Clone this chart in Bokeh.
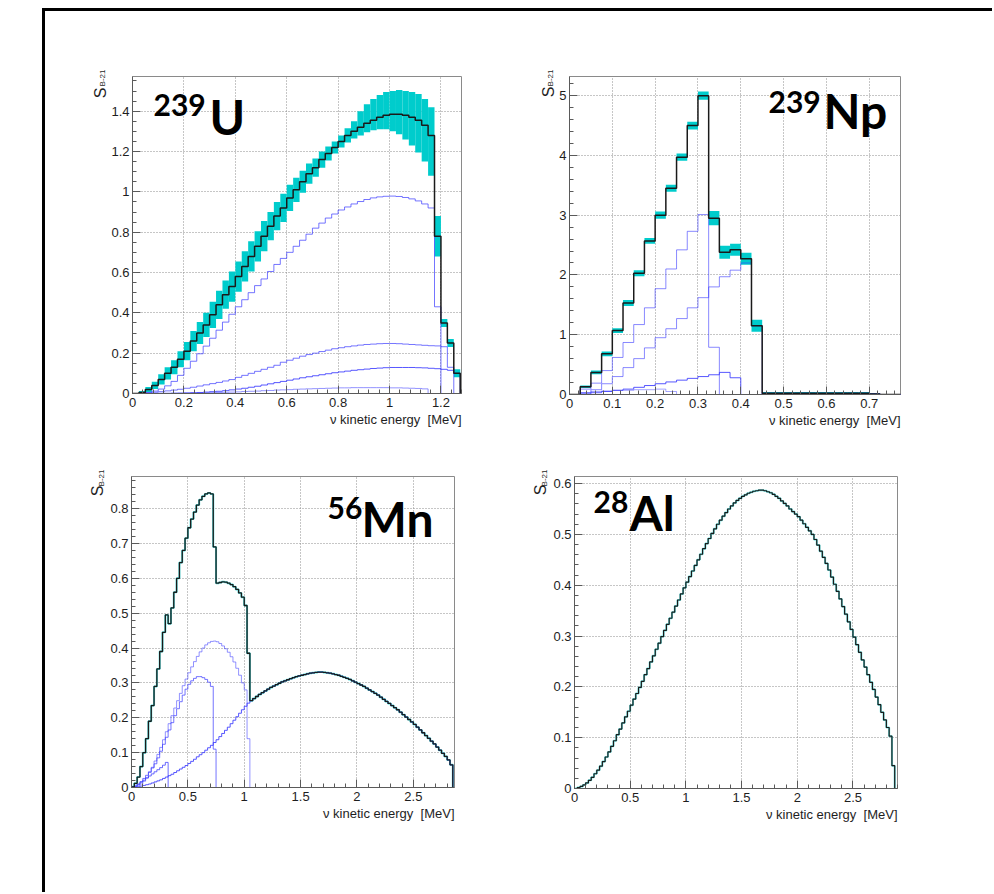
import numpy as np
from bokeh.plotting import figure
from bokeh.models import FixedTicker, PrintfTickFormatter, Label, Title, Div, Spacer
from bokeh.layouts import row, column
from bokeh.embed import file_html
from bokeh.resources import INLINE

BIN = 0.025  # MeV, bin width of every histogram

# ---------------- 239U (51 bins, 0 - 1.275 MeV) ----------------
U_TOTAL = [0.000, 0.005, 0.020, 0.040, 0.070, 0.100, 0.130, 0.170, 0.210, 0.260,
           0.300, 0.340, 0.390, 0.440, 0.490, 0.530, 0.580, 0.630, 0.680, 0.730,
           0.780, 0.830, 0.880, 0.920, 0.970, 1.010, 1.050, 1.090, 1.120, 1.160,
           1.190, 1.220, 1.250, 1.280, 1.300, 1.320, 1.340, 1.355, 1.370, 1.380,
           1.385, 1.385, 1.380, 1.370, 1.355, 1.330, 1.280, 0.780, 0.350, 0.250, 0.100]
U_ERR_LO = [0.003, 0.008, 0.012, 0.018, 0.025, 0.030, 0.035, 0.040, 0.045, 0.050,
            0.055, 0.060, 0.065, 0.070, 0.070, 0.075, 0.075, 0.075, 0.075, 0.075,
            0.075, 0.070, 0.070, 0.070, 0.065, 0.060, 0.055, 0.050, 0.045, 0.040,
            0.035, 0.030, 0.030, 0.035, 0.035, 0.040, 0.045, 0.050, 0.060, 0.070,
            0.085, 0.100, 0.120, 0.140, 0.160, 0.180, 0.200, 0.100, 0.020, 0.020, 0.020]
U_ERR_HI = [0.003, 0.008, 0.012, 0.018, 0.025, 0.030, 0.035, 0.040, 0.045, 0.050,
            0.055, 0.060, 0.065, 0.070, 0.070, 0.075, 0.075, 0.075, 0.075, 0.075,
            0.075, 0.070, 0.070, 0.070, 0.065, 0.060, 0.055, 0.050, 0.045, 0.040,
            0.035, 0.030, 0.030, 0.035, 0.050, 0.080, 0.095, 0.105, 0.110, 0.115,
            0.115, 0.120, 0.120, 0.125, 0.130, 0.130, 0.140, 0.100, 0.020, 0.020, 0.020]
U_C1 = [0.000, 0.000, 0.005, 0.012, 0.022, 0.038, 0.060, 0.090, 0.125, 0.160,
        0.197, 0.235, 0.274, 0.314, 0.354, 0.393, 0.430, 0.465, 0.500, 0.535,
        0.568, 0.605, 0.640, 0.670, 0.700, 0.730, 0.760, 0.790, 0.820, 0.845,
        0.870, 0.890, 0.910, 0.925, 0.940, 0.952, 0.962, 0.970, 0.975, 0.978,
        0.979, 0.977, 0.972, 0.965, 0.955, 0.940, 0.920, 0.430, 0.000, 0.000, 0.000]
U_C2 = [0.000, 0.001, 0.003, 0.006, 0.009, 0.013, 0.017, 0.021, 0.026, 0.031,
        0.037, 0.043, 0.049, 0.055, 0.062, 0.069, 0.080, 0.090, 0.100, 0.110,
        0.120, 0.130, 0.140, 0.155, 0.165, 0.175, 0.185, 0.193, 0.200, 0.208,
        0.215, 0.222, 0.227, 0.232, 0.236, 0.240, 0.243, 0.245, 0.247, 0.248,
        0.248, 0.247, 0.245, 0.243, 0.241, 0.239, 0.237, 0.236, 0.232, 0.130, 0.000]
U_C3 = [0.000, 0.000, 0.000, 0.000, 0.001, 0.001, 0.002, 0.002, 0.003, 0.004,
        0.005, 0.007, 0.009, 0.011, 0.014, 0.018, 0.022, 0.026, 0.031, 0.036,
        0.042, 0.048, 0.054, 0.060, 0.066, 0.072, 0.078, 0.083, 0.088, 0.093,
        0.098, 0.103, 0.107, 0.111, 0.115, 0.118, 0.121, 0.124, 0.126, 0.128,
        0.129, 0.129, 0.129, 0.129, 0.128, 0.127, 0.125, 0.123, 0.120, 0.115, 0.100]
U_C4 = [0.000, 0.000, 0.000, 0.000, 0.000, 0.000, 0.000, 0.001, 0.001, 0.002,
        0.002, 0.003, 0.004, 0.005, 0.006, 0.007, 0.008, 0.010, 0.011, 0.012,
        0.014, 0.015, 0.017, 0.018, 0.019, 0.021, 0.022, 0.023, 0.024, 0.025,
        0.026, 0.027, 0.028, 0.028, 0.029, 0.029, 0.029, 0.029, 0.029, 0.029,
        0.028, 0.028, 0.027, 0.026, 0.025, 0.023, 0.000, 0.000, 0.000, 0.000, 0.000]

# ---------------- 239Np (31 bins, 0 - 0.775 MeV) ----------------
NP_TOTAL = [0.00, 0.13, 0.37, 0.68, 1.07, 1.53, 2.03, 2.57, 3.00, 3.45,
            3.97, 4.50, 5.00, 2.95, 2.38, 2.42, 2.27, 1.15, 0.02, 0.02,
            0.02, 0.02, 0.02, 0.02, 0.02, 0.02, 0.02, 0.02, 0.01, 0.00, 0.00]
NP_ERR = [0.00, 0.02, 0.03, 0.04, 0.04, 0.05, 0.05, 0.05, 0.06, 0.06,
          0.06, 0.065, 0.07, 0.12, 0.11, 0.10, 0.10, 0.10, 0.02, 0.02,
          0.02, 0.02, 0.02, 0.02, 0.02, 0.02, 0.02, 0.02, 0.01, 0.00, 0.00]
NP_A = [0.00, 0.09, 0.19, 0.40, 0.62, 0.87, 1.17, 1.45, 1.77, 2.10, 2.42, 2.73, 3.01, 0.79]
NP_C = [0.00, 0.03, 0.08, 0.18, 0.30, 0.45, 0.60, 0.78, 0.95, 1.10, 1.27, 1.45, 1.62,
        1.80, 1.97, 2.08, 2.20, 1.15]
NP_D = [0.00, 0.01, 0.03, 0.05, 0.07, 0.09, 0.12, 0.15, 0.18, 0.21, 0.24, 0.27, 0.30,
        0.33, 0.37, 0.28]
NP_E = [0.00, 0.03, 0.05, 0.06, 0.07, 0.07, 0.08, 0.08, 0.09, 0.05]
NP_F = [0.00, 0.00, 0.00, 0.00, 0.00, 0.00, 0.00, 0.00, 0.00, 0.00,
        0.00, 0.00, 0.00, 0.00, 0.00, 0.00, 0.00, 0.00, 0.02, 0.02,
        0.02, 0.02, 0.02, 0.02, 0.02, 0.02, 0.02, 0.02, 0.01]

# ---------------- 56Mn (114 bins, 0 - 2.85 MeV) ----------------
MN_C4 = [0.000, 0.001, 0.002, 0.004, 0.006, 0.008, 0.010, 0.013, 0.016, 0.019,
         0.022, 0.026, 0.030, 0.034, 0.038, 0.043, 0.048, 0.053, 0.058, 0.063,
         0.069, 0.075, 0.081, 0.088, 0.094, 0.100, 0.107, 0.114, 0.121, 0.129,
         0.137, 0.146, 0.155, 0.164, 0.173, 0.183, 0.193, 0.203, 0.213, 0.223,
         0.233, 0.242, 0.249, 0.255, 0.261, 0.267, 0.272, 0.277, 0.282, 0.287,
         0.291, 0.295, 0.299, 0.303, 0.306, 0.309, 0.312, 0.315, 0.318, 0.320,
         0.322, 0.324, 0.326, 0.328, 0.329, 0.330, 0.331, 0.331, 0.330, 0.329,
         0.328, 0.326, 0.324, 0.322, 0.319, 0.316, 0.313, 0.310, 0.306, 0.302,
         0.298, 0.294, 0.290, 0.285, 0.280, 0.275, 0.270, 0.265, 0.259, 0.253,
         0.247, 0.241, 0.235, 0.229, 0.223, 0.216, 0.209, 0.202, 0.195, 0.188,
         0.181, 0.173, 0.165, 0.157, 0.149, 0.141, 0.133, 0.125, 0.116, 0.107,
         0.098, 0.089, 0.079, 0.065]
MN_TOTAL_LOW = [0.002, 0.012, 0.030, 0.060, 0.100, 0.140, 0.190, 0.235, 0.290, 0.340,
                0.390, 0.445, 0.495, 0.470, 0.515, 0.560, 0.600, 0.645, 0.680, 0.715,
                0.745, 0.770, 0.790, 0.810, 0.825, 0.835, 0.842, 0.845, 0.842, 0.690,
                0.586, 0.588, 0.590, 0.589, 0.586, 0.582, 0.576, 0.568, 0.558, 0.546,
                0.522, 0.385]
MN_C1 = [0.001, 0.004, 0.009, 0.015, 0.021, 0.027, 0.033, 0.039, 0.045, 0.051,
         0.057, 0.064, 0.072]
MN_C2 = [0.001, 0.004, 0.010, 0.017, 0.026, 0.035, 0.045, 0.056, 0.068, 0.085,
         0.104, 0.124, 0.144, 0.165, 0.186, 0.206, 0.226, 0.246, 0.265, 0.282,
         0.296, 0.306, 0.313, 0.318, 0.318, 0.315, 0.310, 0.302, 0.290, 0.110]
MN_C3 = [0.000, 0.002, 0.005, 0.010, 0.018, 0.028, 0.043, 0.058, 0.076, 0.095,
         0.115, 0.137, 0.160, 0.183, 0.206, 0.228, 0.249, 0.270, 0.292, 0.311,
         0.329, 0.346, 0.361, 0.376, 0.389, 0.400, 0.409, 0.415, 0.419, 0.420,
         0.418, 0.413, 0.406, 0.398, 0.388, 0.375, 0.360, 0.342, 0.322, 0.300,
         0.280, 0.140]

# ---------------- 28Al (115 bins, 0 - 2.875 MeV) ----------------
AL_TOTAL = [0.000, 0.002, 0.004, 0.007, 0.011, 0.016, 0.022, 0.029, 0.036, 0.044,
            0.053, 0.062, 0.072, 0.083, 0.094, 0.106, 0.117, 0.129, 0.141, 0.152,
            0.164, 0.176, 0.187, 0.199, 0.211, 0.224, 0.236, 0.249, 0.261, 0.274,
            0.286, 0.299, 0.311, 0.323, 0.335, 0.347, 0.359, 0.371, 0.383, 0.395,
            0.406, 0.417, 0.428, 0.439, 0.450, 0.461, 0.472, 0.482, 0.492, 0.502,
            0.511, 0.520, 0.528, 0.536, 0.543, 0.550, 0.556, 0.562, 0.567, 0.571,
            0.575, 0.578, 0.581, 0.583, 0.585, 0.586, 0.587, 0.587, 0.586, 0.584,
            0.582, 0.579, 0.575, 0.571, 0.566, 0.561, 0.556, 0.550, 0.545, 0.540,
            0.535, 0.528, 0.521, 0.514, 0.507, 0.500, 0.490, 0.479, 0.467, 0.455,
            0.443, 0.430, 0.416, 0.402, 0.388, 0.373, 0.358, 0.343, 0.328, 0.313,
            0.298, 0.283, 0.268, 0.253, 0.239, 0.224, 0.209, 0.195, 0.180, 0.165,
            0.150, 0.135, 0.120, 0.103, 0.045]

# axis tick values
U_XTICKS = [0, 0.2, 0.4, 0.6, 0.8, 1.0, 1.2]
U_YTICKS = [0, 0.2, 0.4, 0.6, 0.8, 1.0, 1.2, 1.4]
NP_XTICKS = [0, 0.1, 0.2, 0.3, 0.4, 0.5, 0.6, 0.7]
NP_YTICKS = [0, 1, 2, 3, 4, 5]
MN_XTICKS = [0, 0.5, 1.0, 1.5, 2.0, 2.5]
MN_YTICKS = [0, 0.1, 0.2, 0.3, 0.4, 0.5, 0.6, 0.7, 0.8]
AL_XTICKS = [0, 0.5, 1.0, 1.5, 2.0, 2.5]
AL_YTICKS = [0, 0.1, 0.2, 0.3, 0.4, 0.5, 0.6]

X_TITLE = "\u03bd kinetic energy \u00a0[MeV]"
Y_MAIN, Y_SUB = "S", "B-21"

AXIS_FONT = "Liberation Sans"
ISO_FONT = "Lato"
CYAN = "#00cccc"
BLUE = "#3a3aff"
BLACK = "#1a1a1a"
TXT = "#1e1e1e"
MID_LATO = 0.387      # em distance baseline -> middle of the text box (Lato)


def pad(vals, n):
    return list(vals) + [0.0] * (n - len(vals))


def edges(n):
    return [round(i * BIN, 4) for i in range(n + 1)]


def minor_list(stop, step):
    n = int(np.floor(stop / step + 1e-9))
    return [round(i * step, 6) for i in range(n + 1)]


def hist(p, vals, color, width, alpha=1.0):
    e = edges(len(vals))
    xs = [e[0]] + e
    ys = [0.0] + list(vals) + [0.0]
    p.step(xs, ys, mode="after", line_color=color, line_width=width, line_alpha=alpha)


def band(p, vals, lo, hi):
    e = edges(len(vals))
    p.quad(left=e[:-1], right=e[1:],
           bottom=[v - l for v, l in zip(vals, lo)],
           top=[v + h for v, h in zip(vals, hi)],
           fill_color=CYAN, line_color=None)


def make_panel(xmax, ymax, fw, fh, bl, br, bt, bb, xmaj, xmin_step, ymaj, ymin_step):
    p = figure(frame_width=fw, frame_height=fh, x_range=(0, xmax), y_range=(0, ymax),
               output_backend="svg", toolbar_location=None, title=None,
               min_border_left=bl, min_border_right=br,
               min_border_top=bt, min_border_bottom=bb,
               background_fill_color="white", border_fill_color="white")
    p.outline_line_color = "#8a8a8a"
    p.outline_line_width = 1
    p.xaxis.ticker = FixedTicker(ticks=xmaj, minor_ticks=minor_list(xmax, xmin_step))
    p.yaxis.ticker = FixedTicker(ticks=ymaj, minor_ticks=minor_list(ymax, ymin_step))
    for ax in (p.xaxis[0], p.yaxis[0]):
        ax.formatter = PrintfTickFormatter(format="%g")
        ax.major_tick_in = 8
        ax.major_tick_out = 0
        ax.minor_tick_in = 4
        ax.minor_tick_out = 0
        ax.axis_line_color = "#5a5a5a"
        ax.major_tick_line_color = "#5a5a5a"
        ax.minor_tick_line_color = "#5a5a5a"
        ax.major_label_text_font = AXIS_FONT
        ax.major_label_text_font_size = "13px"
        ax.major_label_text_color = TXT
    p.yaxis.major_label_standoff = 3
    p.xaxis.major_label_standoff = 4
    for g in (p.xgrid[0], p.ygrid[0]):
        g.grid_line_color = "#8c8c8c"
        g.grid_line_dash = "1 2"
        g.grid_line_width = 1
    p.add_layout(Title(text=X_TITLE, align="right", text_font=AXIS_FONT,
                       text_font_size="13px", text_font_style="normal",
                       text_color=TXT, standoff=1, offset=0), "below")
    return p


def y_title(p, sub_offset, s_offset, s_standoff):
    # y-axis title S_{B-21}: two side titles, the subscript next to the axis,
    # the main letter pulled back towards it with a negative standoff
    p.add_layout(Title(text=Y_SUB, align="right", vertical_align="bottom",
                       text_font=AXIS_FONT, text_font_size="8px", text_font_style="normal",
                       text_color=TXT, standoff=4, offset=sub_offset), "left")
    p.add_layout(Title(text=Y_MAIN, align="right", vertical_align="bottom",
                       text_font=AXIS_FONT, text_font_size="16px", text_font_style="normal",
                       text_color=TXT, standoff=s_standoff, offset=s_offset), "left")


def iso_label(p, xmax, ymax, fw, fh, mass, sym, m_dx, m_base, s_dx, s_base):
    # m_base / s_base: baseline distance below the frame top (px)
    kx = xmax / fw
    ky = ymax / fh
    p.add_layout(Label(x=m_dx * kx, y=ymax - (m_base - MID_LATO * 30) * ky, text=mass,
                       text_font=ISO_FONT, text_font_style="bold", text_font_size="30px",
                       text_color="black", text_align="left", text_baseline="middle"))
    p.add_layout(Label(x=s_dx * kx, y=ymax - (s_base - MID_LATO * 48) * ky, text=sym,
                       text_font=ISO_FONT, text_font_style="bold", text_font_size="48px",
                       text_color="black", text_align="left", text_baseline="middle"))


# ---------------- panel 1 : 239U ----------------
U_XMAX, U_YMAX = 1.28, 1.572
p1 = make_panel(U_XMAX, U_YMAX, 329, 317, 87, 20, 62, 61, U_XTICKS, 0.04, U_YTICKS, 0.05)
band(p1, U_TOTAL, U_ERR_LO, U_ERR_HI)
hist(p1, U_C4, BLUE, 1, 0.55)
hist(p1, U_C3, BLUE, 1, 0.85)
hist(p1, U_C2, BLUE, 1, 0.7)
hist(p1, U_C1, BLUE, 1, 0.7)
hist(p1, U_TOTAL, BLACK, 1.5)
y_title(p1, -7, 11, -30)
iso_label(p1, U_XMAX, U_YMAX, 329, 317, "239", "U", 21, 40.3, 77, 58.7)

# ---------------- panel 2 : 239Np ----------------
NP_N = len(NP_TOTAL)
NP_XMAX, NP_YMAX = 0.773, 5.32
p2 = make_panel(NP_XMAX, NP_YMAX, 331, 318, 88, 30, 65, 57, NP_XTICKS, 0.02, NP_YTICKS, 0.2)
band(p2, NP_TOTAL, NP_ERR, NP_ERR)
hist(p2, pad(NP_E, NP_N), BLUE, 1, 0.45)
hist(p2, pad(NP_D, NP_N), BLUE, 1, 0.85)
hist(p2, pad(NP_C, NP_N), BLUE, 1, 0.6)
hist(p2, pad(NP_A, NP_N), BLUE, 1, 0.6)
hist(p2, pad(NP_F, NP_N), BLUE, 1.2, 0.9)
hist(p2, NP_TOTAL, BLACK, 1.5)
y_title(p2, -7, 10, -31)
iso_label(p2, NP_XMAX, NP_YMAX, 331, 318, "239", "Np", 199, 37.6, 254, 52.6)

# ---------------- panel 3 : 56Mn ----------------
MN_N = len(MN_C4)
MN_TOTAL = MN_TOTAL_LOW + MN_C4[len(MN_TOTAL_LOW):]
MN_XMAX, MN_YMAX = 2.865, 0.892
p3 = make_panel(MN_XMAX, MN_YMAX, 323, 311, 86, 30, 21, 60, MN_XTICKS, 0.1, MN_YTICKS, 0.02)
hist(p3, MN_TOTAL, CYAN, 2.0, 0.7)
hist(p3, pad(MN_C1, MN_N), BLUE, 1, 0.75)
hist(p3, pad(MN_C2, MN_N), BLUE, 1, 0.7)
hist(p3, pad(MN_C3, MN_N), BLUE, 1, 0.55)
hist(p3, MN_C4, BLUE, 1, 0.85)
hist(p3, MN_TOTAL, BLACK, 1.3)
y_title(p3, -7, 9, -26)
iso_label(p3, MN_XMAX, MN_YMAX, 323, 311, "56", "Mn", 196, 43.3, 230, 61)

# ---------------- panel 4 : 28Al ----------------
AL_XMAX, AL_YMAX = 2.90, 0.614
p4 = make_panel(AL_XMAX, AL_YMAX, 323, 312, 90, 30, 25, 55, AL_XTICKS, 0.1, AL_YTICKS, 0.02)
hist(p4, AL_TOTAL, CYAN, 2.0, 0.6)
hist(p4, AL_TOTAL, BLACK, 1.2)
y_title(p4, -7, 8, -26)
iso_label(p4, AL_XMAX, AL_YMAX, 323, 312, "28", "Al", 19, 37.6, 55, 54.3)

# ---------------- page frame + layout ----------------
vline = Div(text="", width=3, height=884, margin=0, styles={"background-color": "black"})
hline = Div(text="", width=947, height=3, margin=0, styles={"background-color": "black"})
content = column(hline, row(p1, p2), row(p3, p4))
layout = column(Spacer(width=10, height=8, margin=0),
                row(Spacer(width=42, height=10, margin=0), vline, content))

with open("out.html", "w") as f:
    f.write(file_html(layout, INLINE))
